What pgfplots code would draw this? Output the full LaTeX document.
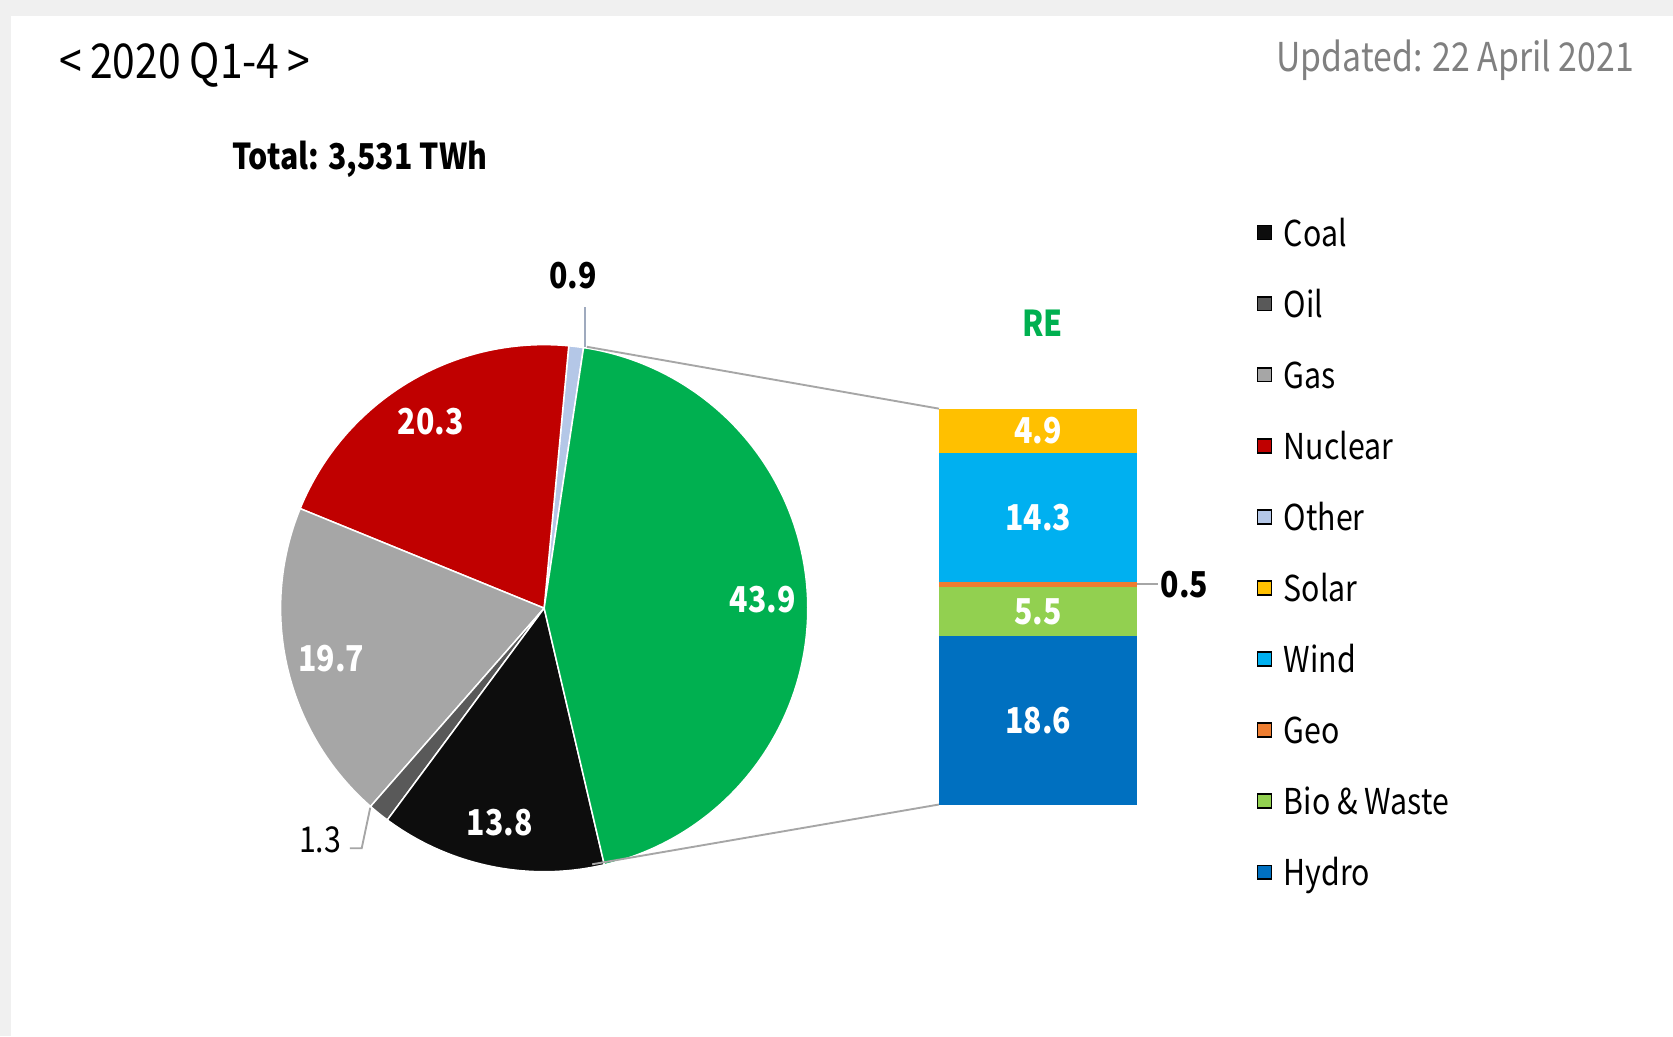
\documentclass[border=0pt]{standalone}
\usepackage{pgfplots}
\pgfplotsset{compat=1.18}
\usepackage{pgfplotstable}
\usepackage{fontspec}
\setmainfont{Noto Sans CJK JP}[FakeStretch=0.85]

\definecolor{coal}{HTML}{0D0D0D}
\definecolor{oil}{HTML}{595959}
\definecolor{gas}{HTML}{A6A6A6}
\definecolor{nuclear}{HTML}{C00000}
\definecolor{other}{HTML}{B4C7E7}
\definecolor{re}{HTML}{00B050}
\definecolor{solar}{HTML}{FFC000}
\definecolor{wind}{HTML}{00B0F0}
\definecolor{geo}{HTML}{ED7D31}
\definecolor{bio}{HTML}{92D050}
\definecolor{hydro}{HTML}{0070C0}
\definecolor{bgout}{HTML}{F0F0F0}
\definecolor{linegray}{HTML}{A6A6A6}

% pie shares (%), counter-clockwise from the top
\pgfplotstableread{
name value col lbl
Other 0.9 other 0
Nuclear 20.3 nuclear 1
Gas 19.7 gas 1
Oil 1.3 oil 0
Coal 13.8 coal 1
RE 43.9 re 1
}\piedata
\pgfplotstablecreatecol[expr accum={\pgfmathaccuma+\thisrow{value}}{0}]{cum}\piedata

% labels on the bar segments
\pgfplotsset{
  seglabel/.style={
    nodes near coords={\pgfmathprintnumber[fixed,precision=1,fixed zerofill,assume math mode=true]{\rawy}},
    visualization depends on=rawy\as\rawy,
    every node near coord/.append style={font=\bfseries\fontsize{9.5}{11}\selectfont,
      text=white, anchor=center},
  },
}

\begin{document}
\begin{tikzpicture}
\begin{axis}[
  name=main,
  scale only axis, width=15.68cm, height=9.71cm,
  xmin=0, xmax=1568, ymin=0, ymax=971,
  hide axis, clip=false,
  legend image code/.code={\fill[#1] (0pt,-1.3pt) rectangle (3.7pt,2.4pt);},
  legend cell align=left,
  legend style={at={(0.7513,0.7847)}, anchor=north west, draw=none, fill=none,
    inner sep=0pt, outer sep=0pt, row sep=12.75pt, column sep=3.1pt,
    font=\fontsize{9.5}{11}\selectfont,
    nodes={inner sep=0pt, text height=6.2pt, text depth=0pt}},
]
\fill[bgout] (axis cs:0,0) rectangle (axis cs:1568,971);
\fill[white] (axis cs:10,0) rectangle (axis cs:1568,956);

\pgfplotsinvokeforeach{0,...,5}{%
  \pgfplotstablegetelem{#1}{value}\of\piedata \let\sval\pgfplotsretval
  \pgfplotstablegetelem{#1}{cum}\of\piedata \let\scum\pgfplotsretval
  \pgfplotstablegetelem{#1}{col}\of\piedata \let\scol\pgfplotsretval
  \pgfplotstablegetelem{#1}{lbl}\of\piedata \let\slbl\pgfplotsretval
  \pgfmathsetmacro\aend{81.4+3.6036*\scum}
  \pgfmathsetmacro\astart{\aend-3.6036*\sval}
  \pgfmathsetmacro\amid{(\astart+\aend)/2}
  \pgfmathsetmacro\lx{510+205*cos(\amid)}
  \pgfmathsetmacro\ly{401+205*sin(\amid)}
  \edef\tmp{\noexpand\fill[\scol, draw=white, line width=0.4pt] (axis cs:510,401) -- ++(\astart:2.47cm)
     arc[start angle=\astart, end angle=\aend, radius=2.47cm] -- cycle;}\tmp
  \ifnum\slbl=1
    \edef\tmp{\noexpand\node[text=white, font=\noexpand\bfseries\noexpand\fontsize{9.5}{11}\noexpand\selectfont]
       at (axis cs:\lx,\ly) {\sval};}\tmp
  \fi
}

% leaders and connectors
\draw[linegray, line width=0.5pt] (axis cs:550,646) -- (axis cs:880,588);
\draw[linegray, line width=0.5pt] (axis cs:555,161) -- (axis cs:880,217);
\draw[other!60!gray, line width=0.6pt] (axis cs:548,646) -- (axis cs:548,683);
\draw[linegray, line width=0.5pt] (axis cs:328,176) -- (axis cs:339,176) -- (axis cs:347,214);
\draw[linegray, line width=0.5pt] (axis cs:1066,424) -- (axis cs:1085,424);

% texts
\node[anchor=west, inner sep=0pt, font=\fontsize{12.8}{14}\selectfont] at (axis cs:55,910) {<\,2020 Q1-4\,>};
\node[anchor=east, inner sep=0pt, text=gray, font=\fontsize{10.6}{12}\selectfont] at (axis cs:1532,915) {Updated: 22 April 2021};
\node[anchor=west, inner sep=0pt, font=\bfseries\fontsize{9.5}{11}\selectfont] at (axis cs:217,822) {Total: 3,531 TWh};
\node[text=re, font=\bfseries\fontsize{9.5}{11}\selectfont] at (axis cs:977,668) {RE};
\node[font=\bfseries\fontsize{9.5}{11}\selectfont] at (axis cs:537,713) {0.9};
\node[font=\fontsize{9.5}{11}\selectfont] at (axis cs:300,184) {1.3};
\node[font=\bfseries\fontsize{9.5}{11}\selectfont] at (axis cs:1110,423) {0.5};

\addlegendimage{fill=coal}\addlegendentry{Coal}
\addlegendimage{fill=oil}\addlegendentry{Oil}
\addlegendimage{fill=gas}\addlegendentry{Gas}
\addlegendimage{fill=nuclear}\addlegendentry{Nuclear}
\addlegendimage{fill=other}\addlegendentry{Other}
\addlegendimage{fill=solar}\addlegendentry{Solar}
\addlegendimage{fill=wind}\addlegendentry{Wind}
\addlegendimage{fill=geo}\addlegendentry{Geo}
\addlegendimage{fill=bio}\addlegendentry{Bio \& Waste}
\addlegendimage{fill=hydro}\addlegendentry{Hydro}
\end{axis}

\begin{axis}[
  at={(8.8cm,2.17cm)}, anchor=south west,
  scale only axis, width=1.86cm, height=3.71cm,
  ybar stacked, bar width=1.86cm,
  xmin=-0.5, xmax=0.5, ymin=0, ymax=43.8, enlargelimits=false,
  hide axis, clip=false,
]
\addplot[fill=hydro, draw=none, seglabel] coordinates {(0,18.6)};
\addplot[fill=bio, draw=none, seglabel] coordinates {(0,5.5)};
\addplot[fill=geo, draw=none] coordinates {(0,0.5)};
\addplot[fill=wind, draw=none, seglabel] coordinates {(0,14.3)};
\addplot[fill=solar, draw=none, seglabel] coordinates {(0,4.9)};
\end{axis}
\end{tikzpicture}
\end{document}
